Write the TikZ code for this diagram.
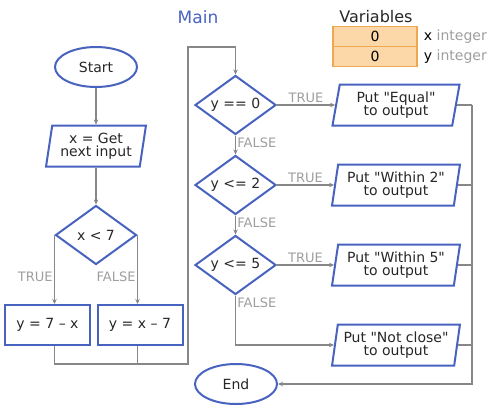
\documentclass[tikz,border=0pt]{standalone}
\usepackage{fontspec}
\setmainfont{DejaVu Sans}
\usetikzlibrary{positioning, shapes.geometric, arrows.meta}
\definecolor{flowblue}{RGB}{72,98,192}
\definecolor{flowgray}{RGB}{135,135,135}
\definecolor{labgray}{RGB}{158,158,158}
\definecolor{varfill}{RGB}{252,216,168}
\definecolor{varline}{RGB}{240,168,80}
\tikzset{
	every shape/.style={draw=flowblue, line width=2pt, text=black!85, inner sep=2pt,
		font=\fontsize{14}{13}\selectfont, align=center},
	terminal/.style={every shape, ellipse, minimum width=82pt, minimum height=40pt},
	process/.style={every shape, rectangle, minimum width=85pt, minimum height=40pt},
	decision/.style={every shape, diamond, aspect=1.4, inner sep=0pt, minimum width=81pt, minimum height=59pt},
	io/.style={every shape, trapezium, trapezium left angle=80, trapezium right angle=100,
		trapezium stretches=true, minimum height=41pt},
	line/.style={draw=flowgray, line width=1.9pt},
	flow/.style={line, -{Stealth[length=5pt, width=4.5pt]}},
	answer/.style={text=labgray, font=\fontsize{13}{13}\selectfont, inner sep=1pt},
	varbox/.style={draw=varline, fill=varfill, line width=1.5pt, minimum width=84pt,
		minimum height=20pt, inner sep=0pt, font=\fontsize{14}{14}\selectfont}
}
\begin{document}
\begin{tikzpicture}[x=1pt, y=-1pt]
		\useasboundingbox (0,0) rectangle (497,407);
		\node [text=flowblue, font=\fontsize{17}{17}\selectfont] (title) at (198,17) {Main};
		\node [text=black!85, font=\fontsize{16}{16}\selectfont] (vars) at (376,17) {Variables};
		\node [varbox] (var-x) at (375,36.5) {0};
		\node [varbox] (var-y) at (375,56.5) {0};
		\foreach \v in {x,y} {
			\node [anchor=west, inner sep=0pt, font=\fontsize{14}{14}\selectfont] (type-\v)
				at ([xshift=6pt]var-\v.east) {\v\ \textcolor{labgray}{integer}};
		};
		\node [terminal] (start) at (96,67) {Start};
		\node [io, minimum width=100pt] (input) at (96,146) {x = Get\\next input};
		\node [decision] (test-x) at (96,235) {x < 7};
		\node [process] (b-1) at (47.5,325) {y = 7 – x};
		\node [process] (b-2) at (140,325) {y = x – 7};
		\foreach \t [count=\i] in {y == 0, y <= 2, y <= 5} {
			\node [decision] (d-\i) at (235.5,{25+80*\i}) {\t};
		};
		\foreach \o [count=\i] in {Equal, Within 2, Within 5, Not close} {
			\node [io, minimum width=128pt] (p-\i) at (396,{25+80*\i})
				{Put \textquotedbl\o\textquotedbl\\to output};
		};
		\node [terminal] (end) at (236,384) {End};
		\coordinate (merge) at (188,364);
		\coordinate (back) at (188,47);
		\coordinate (rail) at (472,384);

		\draw [flow] (start) -- (input);
		\draw [flow] (input) -- (test-x);
		\draw [flow] (test-x.west) -- (test-x.west |- b-1.north)
			node [answer, pos=0.6, left] {TRUE};
		\draw [flow] (test-x.east) -- (test-x.east |- b-2.north)
			node [answer, pos=0.6, left] {FALSE};
		\draw [line] (test-x.east |- b-2.south) -- (test-x.east |- merge);
		\draw [flow] (test-x.west |- b-1.south) |- (merge) -- (back) -| (d-1.north);
		\foreach \i in {1,2,3} {
			\draw [flow] (d-\i.east) -- (d-\i.east -| p-\i.west)
				node [answer, midway, above] {TRUE};
		};
		\foreach \i/\j in {1/2, 2/3} {
			\draw [flow] (d-\i.south) -- (d-\j.north)
				node [answer, pos=0, anchor=north west] {FALSE};
		};
		\draw [flow] (d-3.south) |- (p-4.west)
			node [answer, pos=0, anchor=north west] {FALSE};
		\foreach \i in {1,...,4} {
			\draw [line] (p-\i.east) -- (p-\i.east -| rail);
		};
		\draw [flow] (p-1.east -| rail) -- (rail) -- (end.east);

	\end{tikzpicture}
\end{document}
